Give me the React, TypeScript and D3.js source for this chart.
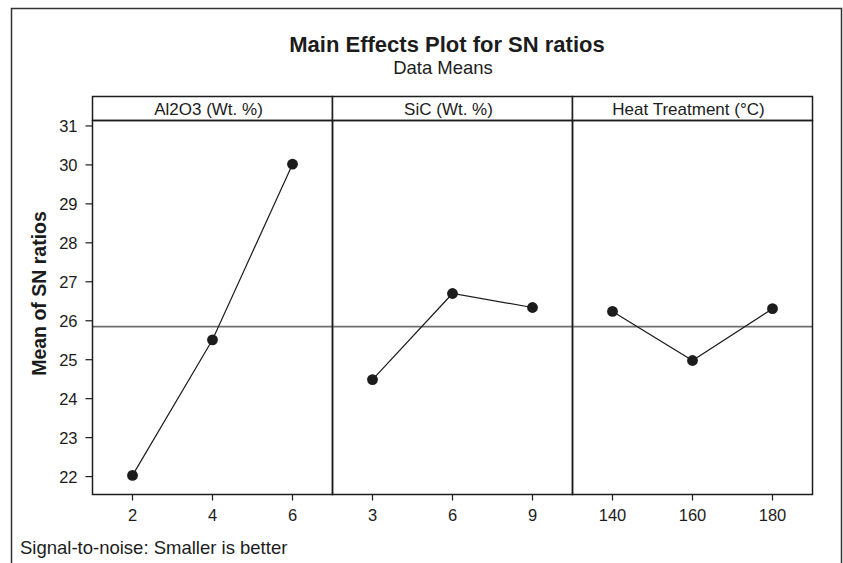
import React from 'react'
import * as d3 from 'd3'

// factor names (strip labels)
const factors = ['Al2O3 (Wt. %)', 'SiC (Wt. %)', 'Heat Treatment (°C)']

// levels of each factor
const al2o3Levels = [2, 4, 6]
const sicLevels = [3, 6, 9]
const heatLevels = [140, 160, 180]

// mean SN ratio at each level
const al2o3Means = [22.03, 25.51, 30.02]
const sicMeans = [24.49, 26.70, 26.34]
const heatMeans = [26.24, 24.98, 26.31]

const yTicks = [22, 23, 24, 25, 26, 27, 28, 29, 30, 31]

const W = 843
const H = 563
const FONT = 'Arial, "Liberation Sans", Helvetica, sans-serif'
const INK = '#1c1c1c'

const App = () => {
  const plotLeft = 92.5
  const panelW = 240
  const stripTop = 96.5
  const plotTop = 120.5
  const plotBottom = 494.5

  const y = d3.scaleLinear().domain([21.54, 31.14]).range([plotBottom, plotTop])

  const panels = [
    { name: factors[0], levels: al2o3Levels, means: al2o3Means },
    { name: factors[1], levels: sicLevels, means: sicMeans },
    { name: factors[2], levels: heatLevels, means: heatMeans }
  ]

  const grandMean = d3.mean(panels.flatMap(p => p.means)) as number

  return (
    <svg width={W} height={H} style={{ position: 'absolute', left: 0, top: 0, background: '#fff' }}
      fontFamily={FONT}>
      {/* outer frame */}
      <rect x={11.5} y={8.5} width={830} height={620} fill="none" stroke="#333" strokeWidth={1.5} />

      <text x={447} y={51.5} textAnchor="middle" fontSize={22} fontWeight="bold" fill={INK}>
        Main Effects Plot for SN ratios
      </text>
      <text x={443} y={74} textAnchor="middle" fontSize={18.5} fill={INK}>Data Means</text>

      {/* y axis */}
      {yTicks.map(t => (
        <g key={t} transform={`translate(${plotLeft},${y(t)})`}>
          <line x1={-7} x2={0} stroke={INK} strokeWidth={1.2} />
          <text x={-15} dy="0.36em" textAnchor="end" fontSize={16.5} fill={INK}>{t}</text>
        </g>
      ))}
      <text transform={`translate(46,${(plotTop + plotBottom) / 2 - 14}) rotate(-90)`}
        textAnchor="middle" fontSize={19.5} fontWeight="bold" fill={INK}>
        Mean of SN ratios
      </text>

      {panels.map((p, i) => {
        const left = plotLeft + i * panelW
        const step = p.levels[1] - p.levels[0]
        const x = d3.scaleLinear()
          .domain([p.levels[0] - step / 2, p.levels[p.levels.length - 1] + step / 2])
          .range([left, left + panelW])
        const pts: [number, number][] = p.levels.map((l, j) => [x(l), y(p.means[j])])
        const line = d3.line()
        return (
          <g key={p.name}>
            {/* strip */}
            <rect x={left} y={stripTop} width={panelW} height={plotTop - stripTop}
              fill="#fff" stroke={INK} strokeWidth={1.5} />
            <text x={left + panelW / 2 - 4} y={115} textAnchor="middle" fontSize={17} fill={INK}>
              {p.name}
            </text>
            {/* reference line at grand mean */}
            <line x1={left} x2={left + panelW} y1={y(grandMean)} y2={y(grandMean)}
              stroke="#6e6e6e" strokeWidth={1.7} />
            <path d={line(pts) as string} fill="none" stroke={INK} strokeWidth={1.2} />
            {pts.map((pt, j) => (
              <circle key={j} cx={pt[0]} cy={pt[1]} r={5.4} fill={INK} />
            ))}
            {/* x ticks */}
            {p.levels.map(l => (
              <g key={l} transform={`translate(${x(l)},${plotBottom})`}>
                <line y1={0} y2={6} stroke={INK} strokeWidth={1.2} />
                <text y={26.5} textAnchor="middle" fontSize={16.5} fill={INK}>{l}</text>
              </g>
            ))}
            <rect x={left} y={plotTop} width={panelW} height={plotBottom - plotTop}
              fill="none" stroke={INK} strokeWidth={1.5} />
          </g>
        )
      })}

      <text x={20} y={554} fontSize={18.5} fill={INK}>Signal-to-noise: Smaller is better</text>
    </svg>
  )
}

export default App
